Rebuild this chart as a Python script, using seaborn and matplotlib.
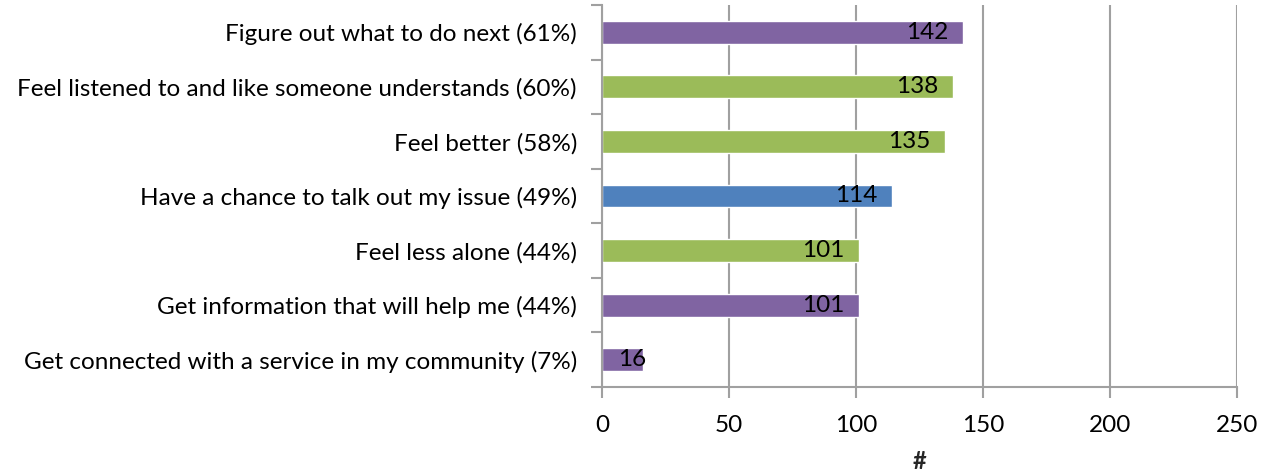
import matplotlib
matplotlib.use("Agg")
import matplotlib.pyplot as plt
import seaborn as sns
import pandas as pd

categories = [
    "Figure out what to do next (61%)",
    "Feel listened to and like someone understands (60%)",
    "Feel better (58%)",
    "Have a chance to talk out my issue (49%)",
    "Feel less alone (44%)",
    "Get information that will help me (44%)",
    "Get connected with a service in my community (7%)",
]
counts = [142, 138, 135, 114, 101, 101, 16]
bar_colors = ["#8064A2", "#9BBB59", "#9BBB59", "#4F81BD", "#9BBB59", "#8064A2", "#8064A2"]
x_ticks = [0, 50, 100, 150, 200, 250]

sns.set_theme(style="white")
plt.rcParams["font.family"] = ["Lato", "DejaVu Sans"]
plt.rcParams["text.color"] = "black"
plt.rcParams["xtick.labelcolor"] = "black"
plt.rcParams["ytick.labelcolor"] = "black"

df = pd.DataFrame({"category": categories, "count": counts})

fig = plt.figure(figsize=(12.7, 4.74), dpi=100)
ax = fig.add_axes([0.474, 0.1835, 0.5, 0.806])

sns.barplot(data=df, x="count", y="category", hue="category",
            palette=dict(zip(categories, bar_colors)), orient="h",
            width=0.42, saturation=1, legend=False, ax=ax)

ax.set_xlim(0, 250)
ax.set_ylim(len(categories) - 0.5, -0.5)
ax.set_xticks(x_ticks)
ax.set_xticklabels([str(t) for t in x_ticks], fontsize=17.5)
ax.xaxis.grid(True, color="#A0A0A0", linewidth=1.5)
ax.set_axisbelow(True)

# y ticks sit on the category boundaries; labels centred on the bars
ax.set_yticks([i for i in range(len(categories))])
ax.set_yticklabels(categories, fontsize=17.5)
ax.set_yticks([i - 0.5 for i in range(len(categories) + 1)], minor=True)
ax.tick_params(axis="y", which="major", length=0, pad=18)
ax.tick_params(axis="y", which="minor", length=8, width=1.5, color="#A0A0A0", direction="out", left=True)
ax.tick_params(axis="x", which="major", length=8, width=1.5, color="#A0A0A0", direction="out", bottom=True, pad=12)

for side in ["top", "right"]:
    ax.spines[side].set_visible(False)
for side in ["left", "bottom"]:
    ax.spines[side].set_color("#A0A0A0")
    ax.spines[side].set_linewidth(1.5)

for i, v in enumerate(counts):
    ax.text(max(v - 14, 0.75 * v), i, str(v), ha="center", va="center",
            fontsize=17.5, color="black")

ax.set_ylabel("")
ax.set_xlabel("#", fontsize=17, fontweight="bold")
ax.xaxis.label.set_va("center")
ax.xaxis.set_label_coords(0.5, -0.195)

fig.savefig("out.png", dpi=100)
